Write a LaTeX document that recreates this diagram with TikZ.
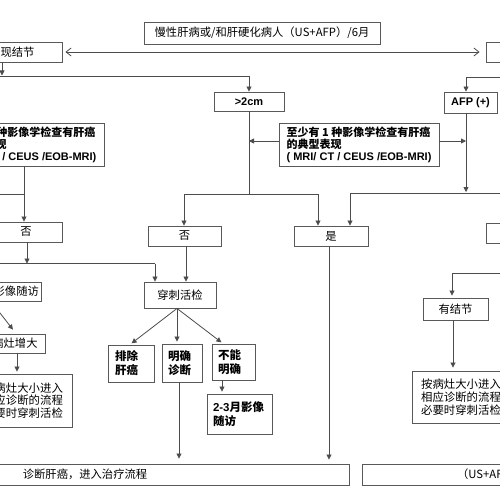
\documentclass[tikz,border=0pt]{standalone}
\usepackage{fontspec}
\setmainfont{Liberation Sans}
\newfontfamily\cjk{Noto Sans CJK SC}
\usetikzlibrary{arrows.meta}
\newcommand\fsong{\cjk\fontsize{11.3}{13}\selectfont}
\newcommand\fhei{\cjk\bfseries\fontsize{11}{12}\selectfont}
\newcommand\fheib{\cjk\bfseries\fontsize{11.5}{14}\selectfont}
\newcommand\fbig{\cjk\fontsize{11.4}{12.8}\selectfont}
\newcommand\fen{\rmfamily\bfseries\fontsize{11}{12}\selectfont}
\newcommand\lat{\rmfamily\bfseries}
\begin{document}
\begin{tikzpicture}[x=1pt,y=-1pt,
  box/.style={draw=black!65,line width=0.9pt,inner sep=0pt,font=\fsong},
  ln/.style={draw=black!70,line width=0.8pt},
  arr/.style={ln,-{Triangle[length=5pt,width=5pt]}},
  dbl/.style={ln,{Straight Barb[length=5pt,width=8pt]}-{Straight Barb[length=5pt,width=8pt]}}]
\useasboundingbox (0,0) rectangle (500,500);
\fill[white] (0,0) rectangle (500,500);
\clip (0,0) rectangle (500,500);
% ---------- nodes ----------
\node[box,minimum width=236,minimum height=22] (top) at (262,33) {慢性肝病或/和肝硬化病人（US+AFP）/6月};
\node[box,minimum width=115,minimum height=20] (nod) at (4.5,52) {US发现结节};
\node[box,minimum width=120,minimum height=20] (rbox) at (546,52) {未发现结节};
\node[box,font=\fen,minimum width=70,minimum height=19] (gt) at (249,101.5) {>2cm};
\node[box,font=\fen,minimum width=53,minimum height=21] (afp) at (470.5,102.5) {AFP (+)};
\node[box,font=\fhei,align=left,minimum width=160,minimum height=43] (mid) at (359,144.5) {至少有 1 种影像学检查有肝癌\\的典型表现\\{\lat ( MRI/ CT / CEUS /EOB-MRI)}};
\node[box,font=\fhei,align=left,minimum width=160,minimum height=43] (lmid) at (24,144.5) {至少有 2 种影像学检查有肝癌\\的典型表现\\{\lat ( MRI/ CT / CEUS /EOB-MRI)}};
\node[box,minimum width=72,minimum height=20] (lno) at (26,232) {否};
\node[box,minimum width=73,minimum height=20] (no2) at (184.5,236) {否};
\node[box,minimum width=74,minimum height=20] (yes) at (331,236) {是};
\node[box,minimum width=72,minimum height=20] (rno) at (522,233) {否};
\node[box,minimum width=72,minimum height=26] (cc) at (180,295) {穿刺活检};
\node[box,minimum width=65,minimum height=22] (yjj) at (455.5,309) {有结节};
\node[box,minimum width=67,minimum height=19] (sf) at (7.5,291.5) {3月影像随访};
\node[box,minimum width=60,minimum height=19] (zz) at (15,343.5) {病灶增大};
\node[box,align=left,minimum width=98,minimum height=53,font=\fbig] (lbig) at (23,400.5) {按病灶大小进入\\相应诊断的流程\\必要时穿刺活检};
\node[box,align=left,minimum width=98,minimum height=52,font=\fbig] (rbig) at (461,397) {按病灶大小进入\\相应诊断的流程\\必要时穿刺活检};
\node[box,font=\fheib,align=left,text width=32,inner xsep=7pt,minimum height=37] (pc) at (131,363.5) {排除\\肝癌};
\node[box,font=\fheib,align=left,text width=28,inner xsep=6pt,minimum height=38] (mq) at (182,363) {明确\\诊断};
\node[box,font=\fheib,align=left,text width=31,inner xsep=6pt,minimum height=36] (bn) at (233.5,362) {不能\\明确};
\node[box,font=\fheib,align=left,text width=53,inner xsep=6pt,minimum height=40] (sf2) at (239.5,414) {{\lat 2-3}月影像\\随访};
\node[box,minimum width=528,minimum height=21] (diag) at (85,474.5) {诊断肝癌，进入治疗流程};
\node[box,minimum width=276,minimum height=21] (rb) at (500,474.5) {（US+AFP）/3月};
% ---------- helper coordinates ----------
\coordinate (x2) at (2,0);
\coordinate (j1) at (249,76);
\coordinate (j2) at (249,194);
\coordinate (c184) at (184,194);
\coordinate (c318) at (318,194);
\coordinate (c350) at (350,193);
\coordinate (j3) at (466,77);
\coordinate (j4) at (466,192);
\coordinate (j5) at (452,273);
\coordinate (x453) at (453,0);
\coordinate (x27) at (27,0);
\coordinate (c155) at (155,263.5);
\coordinate (x186) at (186,0);
\coordinate (x177) at (177,0);
\coordinate (x130) at (130,0);
\coordinate (x223) at (223,0);
\coordinate (x222) at (222,0);
\coordinate (x179) at (179,0);
\coordinate (x329) at (329,0);
\coordinate (xm9) at (-9,0);
\coordinate (x16) at (16,0);
\coordinate (x17) at (17,0);
% ---------- connectors ----------
\draw[dbl,shorten <=3pt,shorten >=6pt] (nod) -- (rbox);
\draw[arr] (nod.south -| x2) -- (2,75.5);
\draw[ln] (-150,76) -- (j1);
\draw[arr] (j1) -- (gt);
\draw[ln] (gt) -- (j2);
\draw[ln] (c184) -- (c318);
\draw[arr] (c184) -- (c184 |- no2.north);
\draw[arr] (c318) -- (c318 |- yes.north);
\draw[arr] ([yshift=3.5pt]mid.west) -- ([yshift=3.5pt]mid.west -| j2);
\draw[ln] (560,77) -- (j3);
\draw[arr] (j3) -- (j3 |- afp.north);
\draw[arr] ([yshift=3.5pt]mid.east) -- ([yshift=3.5pt]mid.east -| j3);
\draw[arr] (afp.south -| j3) -- (j4);
\draw[ln] (c350) -- (560,193);
\draw[arr] (c350) -- (c350 |- yes.north);
\draw[arr,shorten >=2pt] (j5) -- (j5 |- yjj.north);
\draw[ln] (560,273) -- (j5);
\draw[arr,shorten >=3pt] (yjj.south -| x453) -- (x453 |- rbig.north);
\draw[arr] (lmid.south) -- (lmid.south |- lno.north);
\draw[ln] (-150,194) -- (24,194);
\draw[arr] (lno.south -| x27) -- (27,263.5);
\draw[ln] (-150,263.5) -- (c155);
\draw[arr] (c155) -- (c155 |- cc.north);
\draw[arr] (no2.south -| x186) -- (x186 |- cc.north);
\draw[arr,shorten >=2pt] (cc.south -| x177) -- (pc.north -| x130);
\draw[arr,shorten >=2pt] (cc.south -| x177) -- (mq.north -| x177);
\draw[arr,shorten >=2pt] (cc.south -| x177) -- (bn.north -| x223);
\draw[arr,shorten >=2pt] (bn.south -| x222) -- (x222 |- sf2.north);
\draw[arr,shorten >=5pt] (mq.south -| x179) -- (x179 |- diag.north);
\draw[arr,shorten >=4pt] (yes.south -| x329) -- (x329 |- diag.north);
\draw[arr,shorten >=5pt] (sf.south -| xm9) -- (zz.north -| x16);
\draw[arr,shorten >=2pt] (zz.south -| x17) -- (x17 |- lbig.north);
\end{tikzpicture}
\end{document}
